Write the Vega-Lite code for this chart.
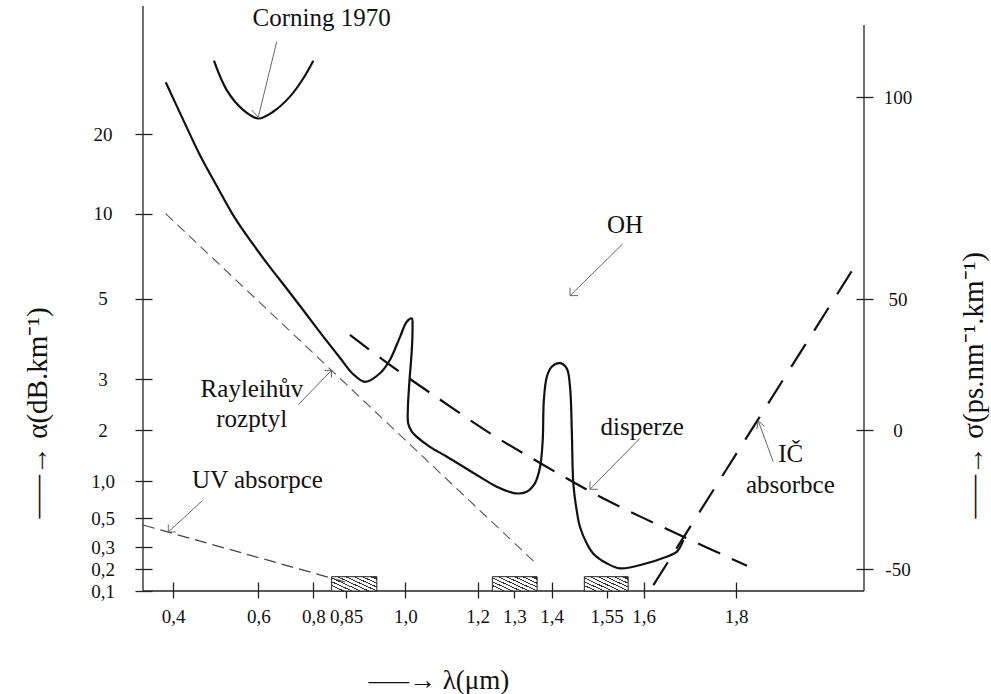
{
  "$schema": "https://vega.github.io/schema/vega-lite/v6.json",
  "width": 721,
  "height": 585,
  "autosize": {"type": "none"},
  "padding": {"left": 143, "top": 6, "right": 127, "bottom": 103},
  "background": "#ffffff",
  "config": {"view": {"stroke": null}, "axis": {"grid": false}},
  "datasets": {
    "axes": [
      {"lam": 0.33, "lam2": 0.33, "a": 0.1, "a2": 61.3},
      {"lam": 0.33, "lam2": 2.08, "a": 0.1, "a2": 0.1}
    ],
    "boxes": [
      {"lam": 0.828, "lam2": 0.928, "a": 0.1, "a2": 0.165},
      {"lam": 1.24, "lam2": 1.361, "a": 0.1, "a2": 0.165},
      {"lam": 1.489, "lam2": 1.579, "a": 0.1, "a2": 0.165}
    ],
    "rayleigh": [{"lam": 0.383, "a": 10}, {"lam": 1.353, "a": 0.233}],
    "uv": [{"lam": 0.33, "a": 0.453}, {"lam": 0.85, "a": 0.14}],
    "ic": [{"lam": 1.621, "a": 0.127}, {"lam": 2.071, "a": 7.38}],
    "corning": [
      {"lam": 0.496, "a": 38.2}, {"lam": 0.526, "a": 29.5}, {"lam": 0.565, "a": 25.2},
      {"lam": 0.6, "a": 23.4}, {"lam": 0.655, "a": 24.9}, {"lam": 0.715, "a": 28.1},
      {"lam": 0.764, "a": 32.9}, {"lam": 0.8, "a": 38.2}
    ],
    "curve": [
      {"lam": 0.383, "a": 31.7}, {"lam": 0.424, "a": 23.1}, {"lam": 0.463, "a": 17.39},
      {"lam": 0.502, "a": 13.55}, {"lam": 0.545, "a": 9.75}, {"lam": 0.588, "a": 8.19},
      {"lam": 0.643, "a": 6.84}, {"lam": 0.703, "a": 5.6}, {"lam": 0.763, "a": 4.72},
      {"lam": 0.81, "a": 4.17}, {"lam": 0.841, "a": 3.53}, {"lam": 0.868, "a": 3.13},
      {"lam": 0.898, "a": 2.95}, {"lam": 0.936, "a": 3.15}, {"lam": 0.961, "a": 3.48},
      {"lam": 0.987, "a": 4.06}, {"lam": 1.004, "a": 4.43}, {"lam": 1.018, "a": 4.51},
      {"lam": 1.02, "a": 4.31}, {"lam": 1.018, "a": 3.73}, {"lam": 1.011, "a": 2.92},
      {"lam": 1.007, "a": 2.39}, {"lam": 1.008, "a": 2.13}, {"lam": 1.018, "a": 1.97},
      {"lam": 1.031, "a": 1.87}, {"lam": 1.068, "a": 1.67}, {"lam": 1.114, "a": 1.48},
      {"lam": 1.206, "a": 1.08}, {"lam": 1.252, "a": 0.924}, {"lam": 1.302, "a": 0.835},
      {"lam": 1.333, "a": 0.857}, {"lam": 1.355, "a": 0.969}, {"lam": 1.369, "a": 1.28},
      {"lam": 1.376, "a": 1.8}, {"lam": 1.379, "a": 2.59}, {"lam": 1.387, "a": 3.06},
      {"lam": 1.4, "a": 3.31}, {"lam": 1.423, "a": 3.4}, {"lam": 1.441, "a": 3.27},
      {"lam": 1.45, "a": 2.85}, {"lam": 1.455, "a": 1.94}, {"lam": 1.459, "a": 0.969},
      {"lam": 1.468, "a": 0.611}, {"lam": 1.477, "a": 0.441}, {"lam": 1.4954, "a": 0.326},
      {"lam": 1.513, "a": 0.271}, {"lam": 1.55, "a": 0.226}, {"lam": 1.568, "a": 0.203},
      {"lam": 1.6065, "a": 0.226}, {"lam": 1.642, "a": 0.25}, {"lam": 1.672, "a": 0.279},
      {"lam": 1.686, "a": 0.349}
    ],
    "pointers": [
      {"lam": 0.667, "a": 45.7, "lam2": 0.6, "a2": 23.7},
      {"lam": 0.5845, "a": 25.2, "lam2": 0.6, "a2": 23.7},
      {"lam": 1.5716, "a": 8.22, "lam2": 1.45, "a2": 5.18},
      {"lam": 1.45, "a": 5.65, "lam2": 1.45, "a2": 5.18},
      {"lam": 1.4717, "a": 5.18, "lam2": 1.45, "a2": 5.18},
      {"lam": 0.7455, "a": 2.5, "lam2": 0.8278, "a2": 3.22},
      {"lam": 0.8278, "a": 3.045, "lam2": 0.8278, "a2": 3.22},
      {"lam": 0.8171, "a": 3.22, "lam2": 0.8278, "a2": 3.22},
      {"lam": 0.4687, "a": 0.736, "lam2": 0.389, "a2": 0.4045},
      {"lam": 0.389, "a": 0.457, "lam2": 0.389, "a2": 0.4045},
      {"lam": 0.4066, "a": 0.4045, "lam2": 0.389, "a2": 0.4045},
      {"lam": 1.595, "a": 1.837, "lam2": 1.5044, "a2": 0.889},
      {"lam": 1.5044, "a": 0.996, "lam2": 1.5044, "a2": 0.889},
      {"lam": 1.526, "a": 0.889, "lam2": 1.5044, "a2": 0.889},
      {"lam": 1.8814, "a": 1.378, "lam2": 1.8487, "a2": 2.178},
      {"lam": 1.8456, "a": 2.022, "lam2": 1.8487, "a2": 2.178},
      {"lam": 1.862, "a": 2.075, "lam2": 1.8487, "a2": 2.178}
    ],
    "labels": [
      {"t": "Corning 1970", "lam": 0.8128, "a": 52.7},
      {"t": "OH", "lam": 1.5747, "a": 8.85},
      {"t": "Rayleihův", "lam": 0.5852, "a": 2.657},
      {"t": "rozptyl", "lam": 0.5845, "a": 2.065},
      {"t": "UV absorpce", "lam": 0.598, "a": 0.902},
      {"t": "disperze", "lam": 1.598, "a": 1.902},
      {"t": "IČ", "lam": 1.9196, "a": 1.378},
      {"t": "absorbce", "lam": 1.9189, "a": 0.835}
    ],
    "raxis": [{"lam": 2.08, "s": 117.9, "s2": -57.9}],
    "disp": [
      {"lam": 0.86, "s": 36.3}, {"lam": 0.953, "s": 25.7}, {"lam": 1.077, "s": 13.4},
      {"lam": 1.234, "s": -1.19}, {"lam": 1.378, "s": -12.6}, {"lam": 1.532, "s": -24.0},
      {"lam": 1.686, "s": -38.4}, {"lam": 1.824, "s": -48.8}
    ]
  },
  "layer": [
    {
      "encoding": {
        "x": {
          "field": "lam", "type": "quantitative",
          "scale": {"domain": [0.33, 0.4, 0.6, 0.8, 0.85, 1.0, 1.2, 1.3, 1.4, 1.55, 1.6, 1.8, 2.08], "range": [0, 30, 115.3, 170.3, 203, 262.3, 334.7, 371.3, 408.7, 463.7, 500.7, 593, 721], "zero": false, "nice": false},
          "axis": {
            "values": [0.4, 0.6, 0.8, 0.85, 1, 1.2, 1.3, 1.4, 1.55, 1.6, 1.8],
            "labelExpr": "datum.value == 1 ? '1,0' : replace(toString(datum.value), '.', ',')",
            "domain": false, "offset": -9, "tickSize": 16, "tickColor": "#222", "tickWidth": 1.3,
            "labelFont": "Liberation Serif", "labelFontSize": 19, "labelColor": "#111", "labelPadding": 9,
            "labelOverlap": false, "labelFlush": false, "labelBound": false,
            "title": "—–→    λ(μm)", "titleFont": "Liberation Serif", "titleFontSize": 27, "titleFontWeight": "normal",
            "titleColor": "#111", "titleX": 225, "titleY": 106, "titleAlign": "left", "titleBaseline": "alphabetic", "titleAngle": 0
          }
        },
        "y": {
          "field": "a", "type": "quantitative",
          "scale": {"domain": [0.1, 0.2, 0.3, 0.5, 1, 2, 3, 5, 10, 20, 30, 40, 61.3], "range": [585, 563, 541, 512.3, 475, 424, 373.3, 292.7, 207.7, 128.3, 81.8, 48.8, 0], "zero": false, "nice": false},
          "axis": {
            "values": [0.1, 0.2, 0.3, 0.5, 1, 2, 3, 5, 10, 20],
            "labelExpr": "datum.value == 1 ? '1,0' : replace(toString(datum.value), '.', ',')",
            "domain": false, "offset": -9, "tickSize": 17, "tickColor": "#222", "tickWidth": 1.3,
            "labelFont": "Liberation Serif", "labelFontSize": 19, "labelColor": "#111", "labelPadding": 32.5,
            "labelAlign": "center", "labelBaseline": "middle",
            "labelOverlap": false, "labelFlush": false, "labelBound": false,
            "title": "—–→    α(dB.km⁻¹)", "titleFont": "Liberation Serif", "titleFontSize": 29, "titleFontWeight": "normal",
            "titleColor": "#111", "titleX": -106, "titleY": 512, "titleAlign": "left", "titleBaseline": "alphabetic", "titleAngle": -90
          }
        }
      },
      "layer": [
        {"data": {"name": "axes"}, "mark": {"type": "rule", "color": "#222", "strokeWidth": 1.3}, "encoding": {"x2": {"field": "lam2"}, "y2": {"field": "a2"}}},
        {"data": {"name": "boxes"}, "mark": {"type": "rect", "stroke": "#222", "strokeWidth": 1,
          "fill": {"gradient": "linear", "x1": 1, "y1": 0.155, "x2": 0, "y2": 0.845, "stops": [
            {"offset": 0, "color": "#333"}, {"offset": 0.035, "color": "#333"}, {"offset": 0.035, "color": "#fff"}, {"offset": 0.125, "color": "#fff"},
            {"offset": 0.125, "color": "#333"}, {"offset": 0.16, "color": "#333"}, {"offset": 0.16, "color": "#fff"}, {"offset": 0.25, "color": "#fff"},
            {"offset": 0.25, "color": "#333"}, {"offset": 0.285, "color": "#333"}, {"offset": 0.285, "color": "#fff"}, {"offset": 0.375, "color": "#fff"},
            {"offset": 0.375, "color": "#333"}, {"offset": 0.41, "color": "#333"}, {"offset": 0.41, "color": "#fff"}, {"offset": 0.5, "color": "#fff"},
            {"offset": 0.5, "color": "#333"}, {"offset": 0.535, "color": "#333"}, {"offset": 0.535, "color": "#fff"}, {"offset": 0.625, "color": "#fff"},
            {"offset": 0.625, "color": "#333"}, {"offset": 0.66, "color": "#333"}, {"offset": 0.66, "color": "#fff"}, {"offset": 0.75, "color": "#fff"},
            {"offset": 0.75, "color": "#333"}, {"offset": 0.785, "color": "#333"}, {"offset": 0.785, "color": "#fff"}, {"offset": 0.875, "color": "#fff"},
            {"offset": 0.875, "color": "#333"}, {"offset": 0.91, "color": "#333"}, {"offset": 0.91, "color": "#fff"}, {"offset": 1, "color": "#fff"}
          ]}},
          "encoding": {"x2": {"field": "lam2"}, "y2": {"field": "a2"}}},
        {"data": {"name": "rayleigh"}, "mark": {"type": "line", "color": "#555", "strokeWidth": 1.1, "strokeDash": [10, 6]}, "encoding": {}},
        {"data": {"name": "uv"}, "mark": {"type": "line", "color": "#444", "strokeWidth": 1.2, "strokeDash": [12, 6]}, "encoding": {}},
        {"data": {"name": "ic"}, "mark": {"type": "line", "color": "#111", "strokeWidth": 2.2, "strokeDash": [27, 16]}, "encoding": {}},
        {"data": {"name": "corning"}, "mark": {"type": "line", "color": "#111", "strokeWidth": 2.2, "interpolate": "catmull-rom"}, "encoding": {}},
        {"data": {"name": "curve"}, "mark": {"type": "line", "color": "#111", "strokeWidth": 2.2, "interpolate": "catmull-rom"}, "encoding": {"order": {"value": null}}},
        {"data": {"name": "pointers"}, "mark": {"type": "rule", "color": "#666", "strokeWidth": 1}, "encoding": {"x2": {"field": "lam2"}, "y2": {"field": "a2"}}},
        {"data": {"name": "labels"}, "mark": {"type": "text", "font": "Liberation Serif", "fontSize": 25, "color": "#111", "align": "center", "baseline": "alphabetic"}, "encoding": {"text": {"field": "t"}}}
      ]
    },
    {
      "encoding": {
        "x": {
          "field": "lam", "type": "quantitative",
          "scale": {"domain": [0.33, 0.4, 0.6, 0.8, 0.85, 1.0, 1.2, 1.3, 1.4, 1.55, 1.6, 1.8, 2.08], "range": [0, 30, 115.3, 170.3, 203, 262.3, 334.7, 371.3, 408.7, 463.7, 500.7, 593, 721], "zero": false, "nice": false}
        },
        "y": {
          "field": "s", "type": "quantitative",
          "scale": {"domain": [-57.9, -50, 0, 50, 100, 122.6], "range": [585, 563, 424, 293, 91.3, 0], "zero": false, "nice": false},
          "axis": {
            "orient": "right",
            "values": [-50, 0, 50, 100],
            "labelExpr": "toString(datum.value)",
            "domain": false, "offset": -8, "tickSize": 17, "tickColor": "#222", "tickWidth": 1.3,
            "labelFont": "Liberation Serif", "labelFontSize": 19, "labelColor": "#111", "labelPadding": 24.5,
            "labelAlign": "center", "labelBaseline": "middle",
            "labelOverlap": false, "labelFlush": false, "labelBound": false,
            "title": "—–→    σ(ps.nm⁻¹.km⁻¹)", "titleFont": "Liberation Serif", "titleFontSize": 29, "titleFontWeight": "normal",
            "titleColor": "#111", "titleX": 126, "titleY": 512, "titleAlign": "left", "titleBaseline": "alphabetic", "titleAngle": -90
          }
        }
      },
      "layer": [
        {"data": {"name": "raxis"}, "mark": {"type": "rule", "color": "#222", "strokeWidth": 1.3}, "encoding": {"y2": {"field": "s2"}}},
        {"data": {"name": "disp"}, "mark": {"type": "line", "color": "#111", "strokeWidth": 2.2, "strokeDash": [24, 13], "interpolate": "catmull-rom"}, "encoding": {}}
      ]
    }
  ],
  "resolve": {"scale": {"y": "independent"}}
}
